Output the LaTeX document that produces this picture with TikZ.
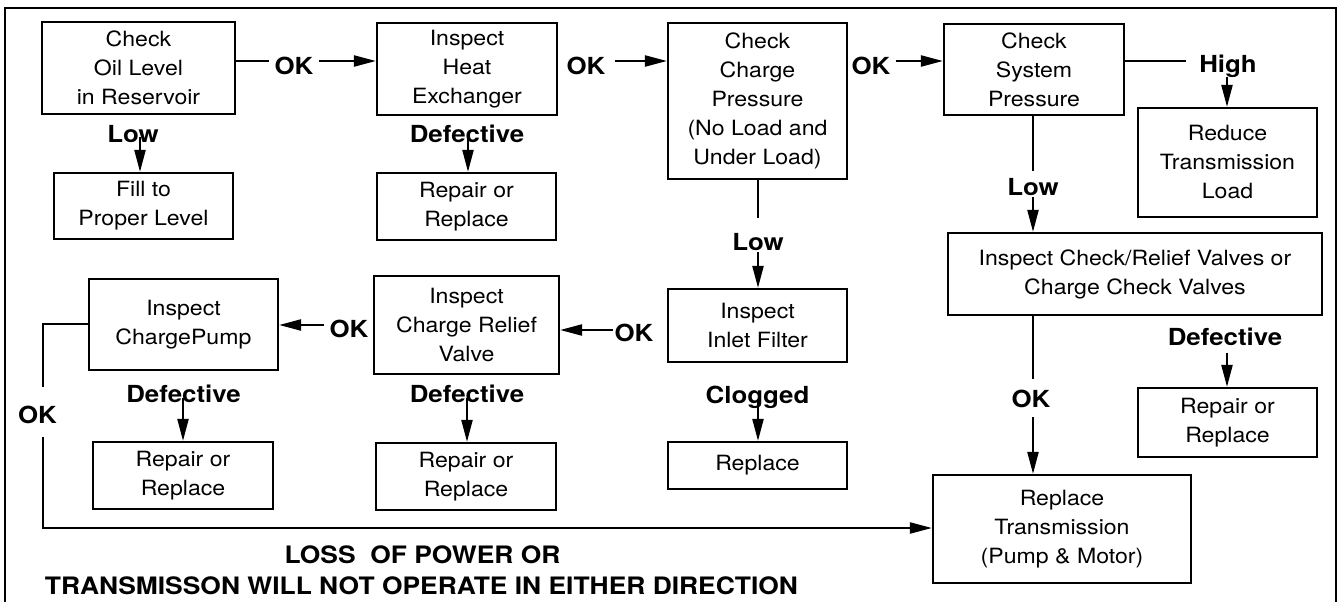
\documentclass[tikz,border=0pt]{standalone}
\usepackage{fontspec}
\setmainfont[FakeStretch=1.1]{TeX Gyre Heros}
\usetikzlibrary{arrows.meta}
\tikzset{
  box/.style={draw, line width=2.2pt, align=center, inner sep=0pt, font=\fontsize{21}{29}\selectfont},
  lbl/.style={font=\bfseries\fontsize{23.5}{28}\selectfont, inner xsep=5pt, inner ysep=2pt, anchor=base},
  ttl/.style={font=\bfseries\fontsize{24}{29}\selectfont, inner sep=0pt, anchor=base},
  arr/.style={line width=2.2pt, -{Triangle[length=22pt,width=11pt]}},
  ln/.style={line width=2.2pt},
}
\begin{document}
\begin{tikzpicture}[x=1pt,y=-1pt]
\useasboundingbox (0,0) rectangle (1342,602);
% frame
\draw[line width=2.5pt] (5,602) -- (5,8) -- (1336,8) -- (1336,602);

% boxes
\node[box, minimum width=193pt, minimum height=92pt] (chk) at (138.5,68) {Check\\Oil Level\\in Reservoir};
\node[box, minimum width=179pt, minimum height=66pt] (fill) at (143.5,206) {Fill to\\Proper Level};
\node[box, minimum width=180pt, minimum height=92pt] (heat) at (467,69) {Inspect\\Heat\\Exchanger};
\node[box, minimum width=179pt, minimum height=67pt] (rep1) at (466.5,206.5) {Repair or\\Replace};
\node[box, minimum width=179pt, minimum height=156pt] (chp) at (757.5,101) {Check\\Charge\\Pressure\\(No Load and\\Under Load)};
\node[box, minimum width=180pt, minimum height=91pt] (sys) at (1034,69.5) {Check\\System\\Pressure};
\node[box, minimum width=179pt, minimum height=109pt] (red) at (1227.5,162.5) {Reduce\\Transmission\\Load};
\node[box, minimum width=374pt, minimum height=82pt] (ccv) at (1135,274) {Inspect Check/Relief Valves or\\Charge Check Valves};
\node[box, minimum width=179pt, minimum height=69pt] (rep4) at (1227.5,422.5) {Repair or\\Replace};
\node[box, minimum width=258pt, minimum height=108pt] (trans) at (1062,529) {Replace\\Transmission\\(Pump \& Motor)};
\node[box, minimum width=179pt, minimum height=73pt] (inlet) at (757.5,325.5) {Inspect\\Inlet Filter};
\node[box, minimum width=179pt, minimum height=47pt] (repl) at (757.5,465.5) {Replace};
\node[box, minimum width=185pt, minimum height=98pt] (crv) at (466.5,325) {Inspect\\Charge Relief\\Valve};
\node[box, minimum width=180pt, minimum height=67pt] (rep2) at (466,476.5) {Repair or\\Replace};
\node[box, minimum width=189pt, minimum height=91pt] (cpump) at (183.5,324.5) {Inspect\\ChargePump};
\node[box, minimum width=180pt, minimum height=67pt] (rep3) at (183,475.5) {Repair or\\Replace};

% labels
\node[lbl] (ok1) at (294,75) {OK};
\node[lbl] (ok2) at (586,75) {OK};
\node[lbl] (ok3) at (871,75) {OK};
\node[lbl] (high) at (1228,73) {High};
\node[lbl] (low1) at (133,142) {Low};
\node[lbl] (def1) at (467,142) {Defective};
\node[lbl] (low2) at (758,250) {Low};
\node[lbl] (low3) at (1033,195) {Low};
\node[lbl] (def4) at (1225,345) {Defective};
\node[lbl] (ok7) at (1031,407) {OK};
\node[lbl] (ok4) at (634,341) {OK};
\node[lbl] (ok5) at (349,337) {OK};
\node[lbl] (def3) at (183.5,402) {Defective};
\node[lbl] (def2) at (467,402) {Defective};
\node[lbl] (clog) at (757.5,403) {Clogged};
\node[lbl] (ok6) at (37.5,423) {OK};
\node[ttl] (t1) at (422.5,563) {LOSS\ \ OF POWER OR};
\node[ttl] (t2) at (421.5,594) {TRANSMISSON WILL NOT OPERATE IN EITHER DIRECTION};

% arrow start coordinates
\coordinate (hs) at (1227,77);
\coordinate (l1s) at (140,137);
\coordinate (d1s) at (468,135);
\coordinate (l2s) at (758,252);
\coordinate (l3s) at (1033,197);
\coordinate (d4s) at (1227,353);
\coordinate (o7s) at (1033,417);
\coordinate (d3s) at (183,398);
\coordinate (d2s) at (467,398);
\coordinate (cls) at (758,400);
\coordinate (lpa) at (43,324);
\coordinate (lpb) at (43,387);
\coordinate (lpc) at (43,437);
\coordinate (lpd) at (43,528);

% top row
\draw[ln] (chk.east |- 0,61) -- (ok1.west |- 0,61);
\draw[arr] (ok1.east |- 0,61) -- (heat.west |- 0,61);
\draw[arr] ([xshift=4pt]ok2.east |- 0,61) -- (chp.west |- 0,61);
\draw[arr] (ok3.east |- 0,61) -- (sys.west |- 0,61);
\draw[ln] (sys.east |- 0,61) -- ([xshift=-8pt]high.west |- 0,61);
\draw[arr] (hs) -- (hs |- red.north);
\draw[arr] (l1s) -- (l1s |- fill.north);
\draw[arr] (d1s) -- (d1s |- rep1.north);

% charge pressure low
\draw[ln] (chp.south -| l2s) -- ++(0,38);
\draw[arr] (l2s) -- (l2s |- inlet.north);
\draw[arr] (cls) -- (cls |- repl.north);

% system pressure low
\draw[ln] (sys.south -| l3s) -- ++(0,55);
\draw[arr] (l3s) -- (l3s |- ccv.north);
\draw[ln] (ccv.south -| o7s) -- ++(0,63);
\draw[arr] (o7s) -- (o7s |- trans.north);
\draw[arr] (d4s) -- (d4s |- rep4.north);

% middle row
\draw[arr] ([xshift=4pt]ok4.west |- 0,330) -- (crv.east |- 0,330);
\draw[arr] (ok5.west |- 0,325) -- (cpump.east |- 0,325);
\draw[arr] (d2s) -- (d2s |- rep2.north);
\draw[arr] (d3s) -- (d3s |- rep3.north);

% loop
\draw[ln] (cpump.west |- lpa) -- (lpa) -- (lpb);
\draw[arr] (lpc) -- (lpd) -- (trans.west |- lpd);
\end{tikzpicture}
\end{document}
